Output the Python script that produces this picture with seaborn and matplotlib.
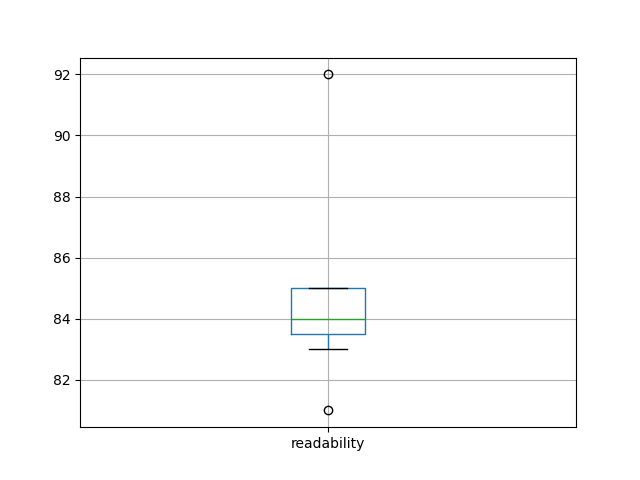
import pandas as pd
import seaborn as sns
import matplotlib
matplotlib.use("Agg")
import matplotlib.pyplot as plt

# readability scores
readability = [81, 83, 84, 84, 85, 85, 92]

df = pd.DataFrame({"readability": readability})

fig, ax = plt.subplots(figsize=(6.4, 4.8), dpi=100)

sns.boxplot(
    data=df,
    width=0.15,
    fill=False,
    linewidth=1.0,
    boxprops=dict(color="#1f77b4"),
    medianprops=dict(color="#2ca02c"),
    whiskerprops=dict(color="#1f77b4"),
    capprops=dict(color="black"),
    flierprops=dict(marker="o", markerfacecolor="none",
                    markeredgecolor="black", markersize=6),
    ax=ax,
)

ax.set_xlim(-0.5, 0.5)
ax.grid(True)
ax.set_axisbelow(True)
ax.set_xlabel("")
ax.set_ylabel("")

fig.savefig("out.png", dpi=100)
